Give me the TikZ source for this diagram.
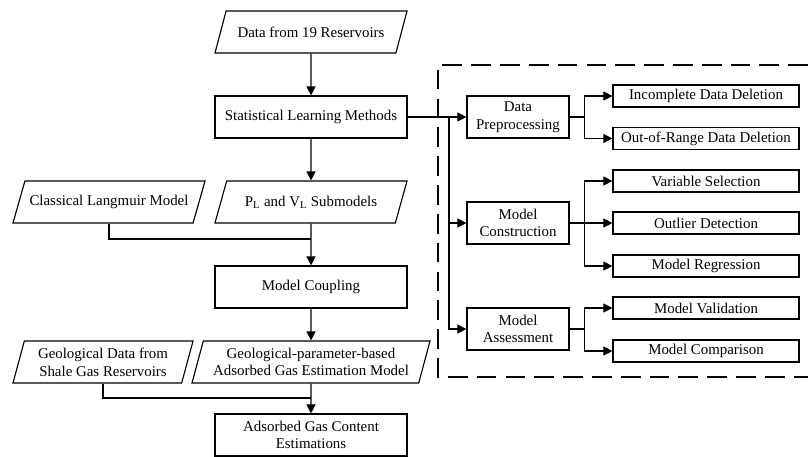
\documentclass[tikz,border=0pt]{standalone}
\usepackage{fontspec}
\setmainfont{Liberation Serif}
\usetikzlibrary{shapes.geometric}
\usetikzlibrary{arrows.meta}

\tikzset{
  box/.style={draw, line width=0.8pt, align=center, inner sep=1pt, minimum height=1.05cm},
  iobox/.style={box, trapezium, trapezium left angle=74, trapezium right angle=106, trapezium stretches body=true, inner ysep=10pt},
  iobox2/.style={iobox, inner ysep=4pt},
  smallbox/.style={box, minimum width=4.65cm, minimum height=0.55cm},
  midbox/.style={box, minimum width=2.55cm},
  conn/.style={line width=0.8pt},
  arr/.style={conn, -{Triangle[length=6.5pt,width=6.5pt]}},
  frame/.style={line width=1.1pt, dash pattern=on 14pt off 6.5pt}
}

\begin{document}
\begin{tikzpicture}[x=0.025cm, y=-0.025cm, font=\fontsize{10.6}{12.6}\selectfont]
    \useasboundingbox (0,0) rectangle (808,456);

    % the main chain
    \node[iobox, minimum width=4.8cm] (res) at (311,32) {Data from 19 Reservoirs};
    \node[box, minimum width=4.8cm] (stat) at (311,117) {Statistical Learning Methods};
    \node[iobox, minimum width=4.8cm] (sub) at (311,202) {P\textsubscript{L} and V\textsubscript{L} Submodels};
    \node[iobox, minimum width=4.8cm] (lang) at (109,202) {Classical Langmuir Model};
    \node[box, minimum width=4.8cm] (coup) at (311,287) {Model Coupling};
    \node[iobox2, minimum width=5.95cm] (est) at (311,362) {Geological-parameter-based\\Adsorbed Gas Estimation Model};
    \node[iobox2, minimum width=4.5cm] (geo) at (103,362) {Geological Data from\\Shale Gas Reservoirs};
    \node[box, minimum width=4.8cm] (ads) at (311,435) {Adsorbed Gas Content\\Estimations};

    % joints
    \coordinate (j1) at (311,239);
    \coordinate (j2) at (311,398);

    \draw[arr] (res) -- (stat);
    \draw[arr] (stat) -- (sub);
    \draw[arr] (sub) -- (coup);
    \draw[conn] (lang.south) |- (j1);
    \draw[arr] (coup) -- (est);
    \draw[arr] (est) -- (ads);
    \draw[conn] (geo.south) |- (j2);

    % the learning methods
    \draw[frame] (808,65) -- (438,65) -- (438,377) -- (808,377);

    \node[midbox] (prep) at (518,117) {Data\\Preprocessing};
    \node[midbox] (cons) at (518,223) {Model\\Construction};
    \node[midbox] (asse) at (518,329) {Model\\Assessment};

    \node[smallbox] (inc) at (706,96) {Incomplete Data Deletion};
    \node[smallbox] (oor) at (706,138.5) {Out-of-Range Data Deletion};
    \node[smallbox] (var) at (706,181) {Variable Selection};
    \node[smallbox] (outl) at (706,223) {Outlier Detection};
    \node[smallbox] (reg) at (706,266) {Model Regression};
    \node[smallbox] (val) at (706,308) {Model Validation};
    \node[smallbox] (comp) at (706,351) {Model Comparison};

    % into the three steps
    \coordinate (trunk) at (449,117);
    \draw[arr] (stat) -- (prep);
    \draw[arr] (trunk) |- (asse);
    \draw[arr] (trunk |- cons) -- (cons);

    % the sub-steps
    \draw[arr] (prep.east) -- ++(15,0) |- (inc.west);
    \draw[arr] (prep.east) -- ++(15,0) |- (oor.west);
    \draw[arr] (cons.east) -- ++(15,0) |- (var.west);
    \draw[arr] (cons) -- (outl);
    \draw[arr] (cons.east) -- ++(15,0) |- (reg.west);
    \draw[arr] (asse.east) -- ++(15,0) |- (val.west);
    \draw[arr] (asse.east) -- ++(15,0) |- (comp.west);
\end{tikzpicture}
\end{document}
